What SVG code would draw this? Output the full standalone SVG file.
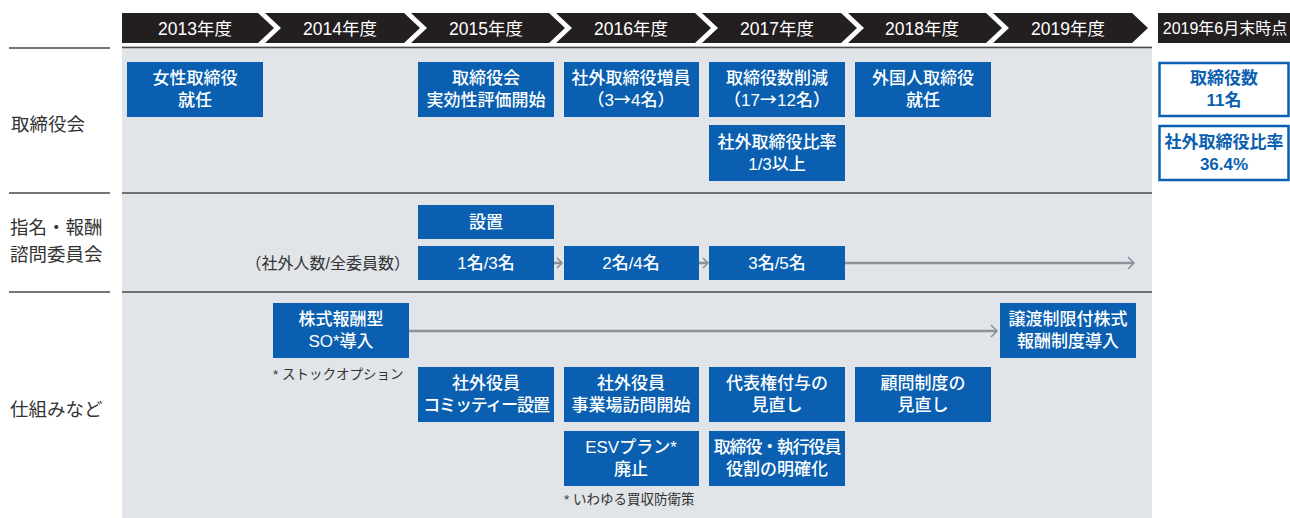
<svg xmlns="http://www.w3.org/2000/svg" width="1290" height="518" viewBox="0 0 1290 518">
<defs>
<style>
text{font-family:"Liberation Sans","Noto Sans CJK JP",sans-serif;}
.hd{fill:#231f20;}
.ht{fill:#ffffff;font-size:17.5px;text-anchor:middle;}
.sep{stroke:#4a4a4a;stroke-width:1.5;}
.lbl{fill:#333333;font-size:18.5px;}
.box{fill:#0a5fb0;}
.bt{fill:#ffffff;font-size:17px;font-weight:500;text-anchor:middle;}
.tight{letter-spacing:-1.2px;}
.cj{font-family:"Noto Sans CJK JP",sans-serif;}
.obox{fill:#ffffff;stroke:#0a5fb0;stroke-width:2.5;}
.ot{fill:#0a5fb0;font-size:17px;font-weight:bold;text-anchor:middle;}
.note{fill:#333333;font-size:13.5px;}
.arr{stroke:#8a9399;stroke-width:2.5;fill:none;}
.ah{stroke:#8a9399;stroke-width:1.6;fill:none;}
</style>
</defs>
<rect x="0" y="0" width="1290" height="518" fill="#ffffff"/>
<rect x="122" y="46" width="1030" height="472" fill="#e1e4e8"/>

<g id="header">
<polygon class="hd" points="122,13 258,13 274,28 258,43 122,43"/>
<polygon class="hd" points="265,13 404,13 420,28 404,43 265,43 281,28"/>
<polygon class="hd" points="411,13 549,13 565,28 549,43 411,43 427,28"/>
<polygon class="hd" points="556,13 695,13 711,28 695,43 556,43 572,28"/>
<polygon class="hd" points="702,13 841,13 857,28 841,43 702,43 718,28"/>
<polygon class="hd" points="848,13 986,13 1002,28 986,43 848,43 864,28"/>
<polygon class="hd" points="993,13 1132,13 1148,28 1132,43 993,43 1009,28"/>
<rect class="hd" x="1158" y="13" width="132" height="30"/>
<text class="ht" x="195" y="34.5">2013年度</text>
<text class="ht" x="340" y="34.5">2014年度</text>
<text class="ht" x="486" y="34.5">2015年度</text>
<text class="ht" x="631" y="34.5">2016年度</text>
<text class="ht" x="777" y="34.5">2017年度</text>
<text class="ht" x="922" y="34.5">2018年度</text>
<text class="ht" x="1068" y="34.5">2019年度</text>
<text class="ht" x="1225" y="34" style="font-size:16px">2019年6月末時点</text>
</g>

<g id="sections">
<line class="sep" x1="9" y1="48" x2="110" y2="48"/>
<line class="sep" x1="122" y1="47.5" x2="1152" y2="47.5"/>
<line class="sep" x1="9" y1="193" x2="110" y2="193"/>
<line class="sep" x1="122" y1="193" x2="1152" y2="193"/>
<line class="sep" x1="9" y1="292" x2="110" y2="292"/>
<line class="sep" x1="122" y1="292" x2="1152" y2="292"/>
<text class="lbl" x="11" y="131">取締役会</text>
<text class="lbl" x="10" y="234">指名・報酬</text>
<text class="lbl" x="10" y="261">諮問委員会</text>
<text class="lbl" x="10" y="416">仕組みなど</text>
</g>

<g id="connectors">
<line class="arr" x1="845" y1="263" x2="1134" y2="263"/>
<polyline class="ah" points="1128,257 1134,263 1128,269"/>
<line class="arr" x1="553" y1="263" x2="562" y2="263"/>
<polyline class="ah" points="557,258 562,263 557,268"/>
<line class="arr" x1="699" y1="263" x2="708" y2="263"/>
<polyline class="ah" points="703,258 708,263 703,268"/>
<line class="arr" x1="409" y1="331" x2="997" y2="331"/>
<polyline class="ah" points="991,325 997,331 991,337"/>
</g>

<g id="n-female"><rect class="box" x="127" y="62" width="136" height="55"/><text class="bt" x="195" y="84">女性取締役</text><text class="bt" x="195" y="106">就任</text></g>
<g id="n-eval"><rect class="box" x="418" y="62" width="136" height="55"/><text class="bt" x="486" y="84">取締役会</text><text class="bt" x="486" y="106">実効性評価開始</text></g>
<g id="n-increase"><rect class="box" x="564" y="62" width="135" height="55"/><text class="bt" x="631" y="84">社外取締役増員</text><text class="bt" x="631" y="106">（3<tspan class="cj">→</tspan>4名）</text></g>
<g id="n-reduce"><rect class="box" x="709" y="62" width="136" height="55"/><text class="bt" x="777" y="84">取締役数削減</text><text class="bt" x="777" y="106">（17<tspan class="cj">→</tspan>12名）</text></g>
<g id="n-foreign"><rect class="box" x="855" y="62" width="136" height="55"/><text class="bt" x="923" y="84">外国人取締役</text><text class="bt" x="923" y="106">就任</text></g>
<g id="n-ratio"><rect class="box" x="709" y="125" width="136" height="56"/><text class="bt" x="777" y="148">社外取締役比率</text><text class="bt" x="777" y="170">1/3以上</text></g>

<g id="n-count"><rect class="obox" x="1159.5" y="63" width="129" height="53"/><text class="ot" x="1224" y="84">取締役数</text><text class="ot" x="1224" y="106">11名</text></g>
<g id="n-ratio-now"><rect class="obox" x="1159.5" y="126" width="129" height="54"/><text class="ot" x="1224" y="148">社外取締役比率</text><text class="ot" x="1224" y="170">36.4%</text></g>

<g id="n-setup"><rect class="box" x="418" y="205" width="136" height="34"/><text class="bt" x="486" y="228">設置</text></g>
<text class="note" x="410" y="269" text-anchor="end" style="font-size:16px">（社外人数/全委員数）</text>
<g id="n-13"><rect class="box" x="418" y="246" width="136" height="34"/><text class="bt" x="486" y="269">1名/3名</text></g>
<g id="n-24"><rect class="box" x="564" y="246" width="135" height="34"/><text class="bt" x="631" y="269">2名/4名</text></g>
<g id="n-35"><rect class="box" x="709" y="246" width="136" height="34"/><text class="bt" x="777" y="269">3名/5名</text></g>

<g id="n-so"><rect class="box" x="273" y="303" width="136" height="55"/><text class="bt" x="341" y="325">株式報酬型</text><text class="bt" x="341" y="347">SO*導入</text></g>
<text class="note" x="273" y="379">* ストックオプション</text>
<g id="n-rs"><rect class="box" x="1000" y="303" width="136" height="55"/><text class="bt" x="1068" y="325">譲渡制限付株式</text><text class="bt" x="1068" y="347">報酬制度導入</text></g>
<g id="n-committee"><rect class="box" x="418" y="367" width="136" height="55"/><text class="bt" x="486" y="389">社外役員</text><text class="bt tight" x="486" y="411">コミッティー設置</text></g>
<g id="n-visit"><rect class="box" x="564" y="367" width="135" height="55"/><text class="bt" x="631" y="389">社外役員</text><text class="bt" x="631" y="411">事業場訪問開始</text></g>
<g id="n-rep"><rect class="box" x="709" y="367" width="136" height="55"/><text class="bt" x="777" y="389">代表権付与の</text><text class="bt" x="777" y="411">見直し</text></g>
<g id="n-advisor"><rect class="box" x="855" y="367" width="136" height="55"/><text class="bt" x="923" y="389">顧問制度の</text><text class="bt" x="923" y="411">見直し</text></g>
<g id="n-esv"><rect class="box" x="564" y="431" width="135" height="55"/><text class="bt" x="631" y="453">ESVプラン*</text><text class="bt" x="631" y="475">廃止</text></g>
<g id="n-roles"><rect class="box" x="709" y="431" width="136" height="55"/><text class="bt tight" x="777" y="453">取締役・執行役員</text><text class="bt" x="777" y="475">役割の明確化</text></g>
<text class="note" x="564" y="504">* いわゆる買収防衛策</text>
</svg>
